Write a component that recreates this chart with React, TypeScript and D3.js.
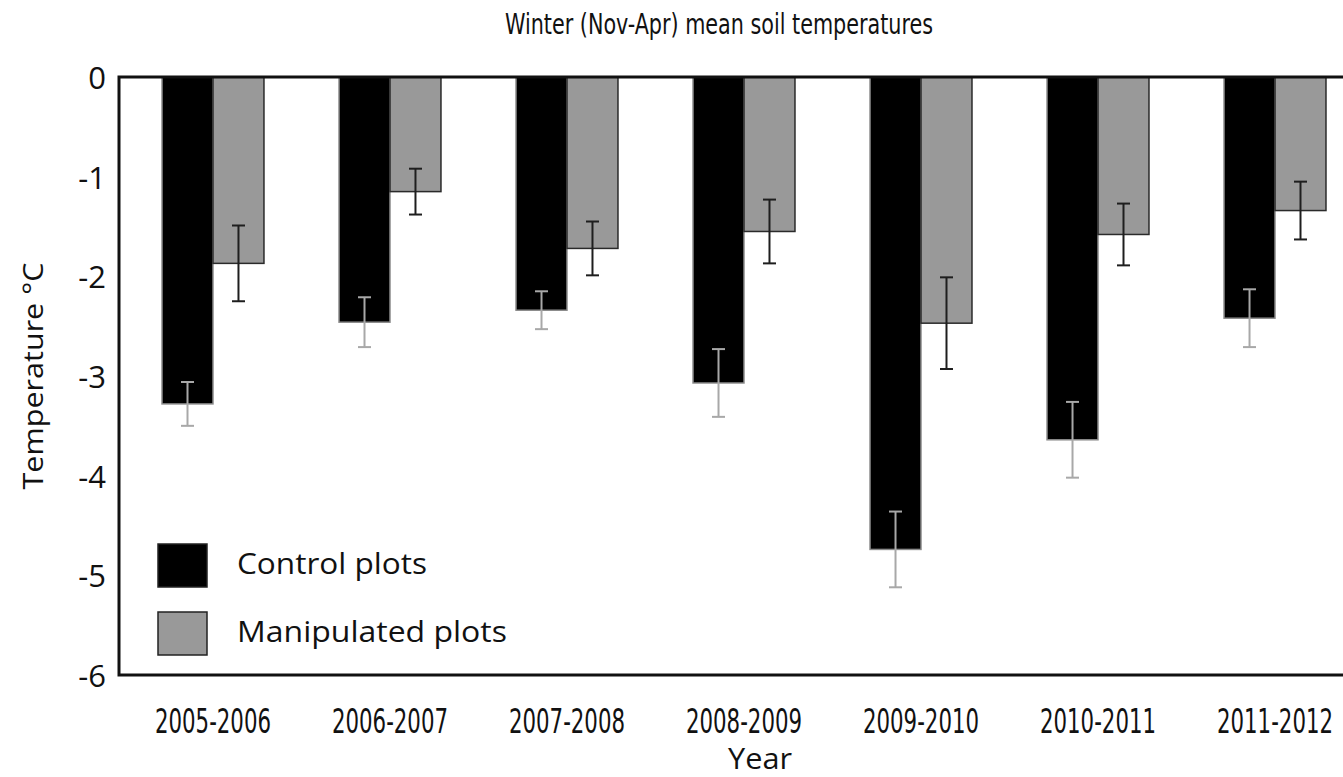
import React from "react";
import * as d3 from "d3";

// Winter seasons (Nov-Apr)
const seasons = [
  "2005-2006",
  "2006-2007",
  "2007-2008",
  "2008-2009",
  "2009-2010",
  "2010-2011",
  "2011-2012",
];

const seriesNames = ["Control plots", "Manipulated plots"];

// Mean soil temperature (°C) and error half-widths per season
const controlMeans = [-3.28, -2.46, -2.34, -3.07, -4.74, -3.64, -2.42];
const controlErrors = [0.22, 0.25, 0.19, 0.34, 0.38, 0.38, 0.29];
const manipulatedMeans = [-1.87, -1.15, -1.72, -1.55, -2.47, -1.58, -1.34];
const manipulatedErrors = [0.38, 0.23, 0.27, 0.32, 0.46, 0.31, 0.29];

const yTicks = [0, -1, -2, -3, -4, -5, -6];

const W = 1343;
const H = 777;
const plot = { left: 119, right: 1369, top: 77, bottom: 675 };

const seriesStyle = [
  { fill: "#000000", stroke: "#8a8a8a", err: "#a8a8a8" },
  { fill: "#999999", stroke: "#2a2a2a", err: "#1e1e1e" },
];

const condensed = "'Liberation Sans Narrow', 'DejaVu Sans Condensed', 'Open Sans', sans-serif";
const humanist = "'Open Sans', 'Noto Sans', sans-serif";

export default function App() {
  const x0 = d3
    .scaleBand<string>()
    .domain(seasons)
    .range([plot.left, plot.right])
    .paddingInner(0.424)
    .paddingOuter(0.243);
  const x1 = d3
    .scaleBand<string>()
    .domain(seriesNames)
    .range([0, x0.bandwidth()])
    .padding(0);
  const y = d3.scaleLinear().domain([-6, 0]).range([plot.bottom, plot.top]);

  const series = [
    { name: seriesNames[0], means: controlMeans, errors: controlErrors },
    { name: seriesNames[1], means: manipulatedMeans, errors: manipulatedErrors },
  ];

  const capHalf = 6.5;

  return (
    <svg
      width={W}
      height={H}
      viewBox={`0 0 ${W} ${H}`}
      style={{ position: "absolute", left: 0, top: 0, background: "#fff", overflow: "hidden" }}
    >
      <rect x={0} y={0} width={W} height={H} fill="#fff" />

      {/* title */}
      <text
        x={719}
        y={34}
        textAnchor="middle"
        fontFamily={condensed}
        fontSize={29}
        textLength={428}
        lengthAdjust="spacingAndGlyphs"
        fill="#111"
      >
        Winter (Nov-Apr) mean soil temperatures
      </text>

      {/* bars */}
      {series.map((s, si) =>
        seasons.map((season, i) => {
          const bx = (x0(season) ?? 0) + (x1(s.name) ?? 0);
          const bw = x1.bandwidth();
          const v = s.means[i];
          return (
            <rect
              key={`bar-${si}-${i}`}
              x={bx}
              y={y(0)}
              width={bw}
              height={y(v) - y(0)}
              fill={seriesStyle[si].fill}
              stroke={seriesStyle[si].stroke}
              strokeWidth={1.5}
            />
          );
        })
      )}

      {/* error bars */}
      {series.map((s, si) =>
        seasons.map((season, i) => {
          const cx = (x0(season) ?? 0) + (x1(s.name) ?? 0) + x1.bandwidth() / 2;
          const v = s.means[i];
          const e = s.errors[i];
          const yTop = y(v + e);
          const yBot = y(v - e);
          const c = seriesStyle[si].err;
          return (
            <g key={`err-${si}-${i}`} stroke={c} strokeWidth={2}>
              <line x1={cx} x2={cx} y1={yTop} y2={yBot} />
              <line x1={cx - capHalf} x2={cx + capHalf} y1={yTop} y2={yTop} />
              <line x1={cx - capHalf} x2={cx + capHalf} y1={yBot} y2={yBot} />
            </g>
          );
        })
      )}

      {/* frame */}
      <rect
        x={plot.left}
        y={plot.top}
        width={plot.right - plot.left}
        height={plot.bottom - plot.top}
        fill="none"
        stroke="#111"
        strokeWidth={3}
      />

      {/* y tick labels */}
      {yTicks.map((t) => (
        <text
          key={`yt-${t}`}
          x={106}
          y={y(t)}
          textAnchor="end"
          dominantBaseline="central"
          fontFamily={humanist}
          fontSize={31}
          fill="#111"
        >
          {t === 0 ? "0" : `-${Math.abs(t)}`}
        </text>
      ))}

      {/* y axis title */}
      <text
        transform={`translate(43, 376) rotate(-90)`}
        textAnchor="middle"
        fontFamily={humanist}
        fontSize={28}
        textLength={227}
        lengthAdjust="spacingAndGlyphs"
        fill="#111"
      >
        Temperature °C
      </text>

      {/* x tick labels */}
      {seasons.map((season) => (
        <text
          key={`xt-${season}`}
          x={(x0(season) ?? 0) + x0.bandwidth() / 2}
          y={733}
          textAnchor="middle"
          fontFamily={condensed}
          fontSize={33}
          textLength={116}
          lengthAdjust="spacingAndGlyphs"
          fill="#111"
        >
          {season}
        </text>
      ))}

      {/* x axis title */}
      <text
        x={760}
        y={769}
        textAnchor="middle"
        fontFamily={humanist}
        fontSize={30}
        textLength={64}
        lengthAdjust="spacingAndGlyphs"
        fill="#111"
      >
        Year
      </text>

      {/* legend */}
      {seriesNames.map((name, si) => {
        const top = si === 0 ? 544 : 612;
        return (
          <g key={`lg-${si}`}>
            <rect
              x={158}
              y={top}
              width={49}
              height={43}
              fill={seriesStyle[si].fill}
              stroke="#222"
              strokeWidth={1.5}
            />
            <text
              x={237}
              y={top + 30}
              fontFamily={humanist}
              fontSize={29}
              textLength={si === 0 ? 190 : 270}
              lengthAdjust="spacingAndGlyphs"
              fill="#111"
            >
              {name}
            </text>
          </g>
        );
      })}
    </svg>
  );
}
